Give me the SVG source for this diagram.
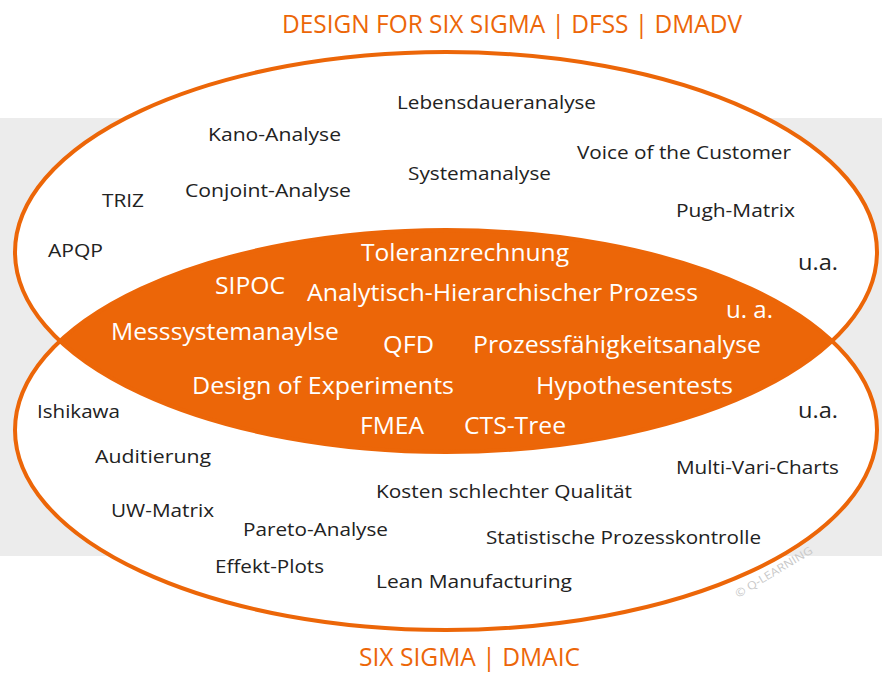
<svg xmlns="http://www.w3.org/2000/svg" width="882" height="673" viewBox="0 0 882 673">
<style>
.t{font-family:"Open Sans","Noto Sans","Liberation Sans",sans-serif;font-size:19px;fill:#222}
.w{font-family:"Open Sans","Noto Sans","Liberation Sans",sans-serif;font-size:23px;fill:#fff}
.h{font-family:"Open Sans","Noto Sans","Liberation Sans",sans-serif;font-size:25px;fill:#EC6608}
.ring{fill:none;stroke:#EC6608;stroke-width:4}
</style>
<defs>
<clipPath id="topClip"><ellipse cx="446" cy="252" rx="431" ry="200"/></clipPath>
</defs>
<rect x="0" y="0" width="882" height="673" fill="#fff"/>
<rect x="0" y="118" width="882" height="438" fill="#ececec"/>
<g id="ellipses">
<ellipse cx="446" cy="252" rx="431" ry="200" fill="#fff"/>
<ellipse cx="446" cy="430" rx="431" ry="200" fill="#fff"/>
<ellipse cx="446" cy="430" rx="431" ry="200" fill="#EC6608" clip-path="url(#topClip)"/>
<ellipse class="ring" cx="446" cy="252" rx="431" ry="200"/>
<ellipse class="ring" cx="446" cy="430" rx="431" ry="200"/>
</g>
<g id="titles">
<text class="h" x="282" y="33" textLength="460" lengthAdjust="spacingAndGlyphs">DESIGN FOR SIX SIGMA | DFSS | DMADV</text>
<text class="h" x="359" y="666" textLength="221" lengthAdjust="spacingAndGlyphs">SIX SIGMA | DMAIC</text>
</g>
<g id="dfss">
<text class="t" x="397" y="109" textLength="199" lengthAdjust="spacingAndGlyphs">Lebensdaueranalyse</text>
<text class="t" x="208" y="141" textLength="133" lengthAdjust="spacingAndGlyphs">Kano-Analyse</text>
<text class="t" x="577" y="159" textLength="214" lengthAdjust="spacingAndGlyphs">Voice of the Customer</text>
<text class="t" x="408" y="180" textLength="143" lengthAdjust="spacingAndGlyphs">Systemanalyse</text>
<text class="t" x="102" y="207" textLength="42" lengthAdjust="spacingAndGlyphs">TRIZ</text>
<text class="t" x="185" y="197" textLength="166" lengthAdjust="spacingAndGlyphs">Conjoint-Analyse</text>
<text class="t" x="676" y="217" textLength="119" lengthAdjust="spacingAndGlyphs">Pugh-Matrix</text>
<text class="t" x="48" y="257" textLength="55" lengthAdjust="spacingAndGlyphs">APQP</text>
<text class="t" x="798" y="270" style="font-size:22px" textLength="40" lengthAdjust="spacingAndGlyphs">u.a.</text>
</g>
<g id="both">
<text class="w" x="361" y="261" textLength="208" lengthAdjust="spacingAndGlyphs">Toleranzrechnung</text>
<text class="w" x="215" y="294" textLength="70" lengthAdjust="spacingAndGlyphs">SIPOC</text>
<text class="w" x="307" y="301" textLength="391" lengthAdjust="spacingAndGlyphs">Analytisch-Hierarchischer Prozess</text>
<text class="w" x="726" y="318" textLength="47" lengthAdjust="spacingAndGlyphs">u. a.</text>
<text class="w" x="111" y="340" textLength="228" lengthAdjust="spacingAndGlyphs">Messsystemanaylse</text>
<text class="w" x="383" y="353" textLength="51" lengthAdjust="spacingAndGlyphs">QFD</text>
<text class="w" x="473" y="353" textLength="288" lengthAdjust="spacingAndGlyphs">Prozessfähigkeitsanalyse</text>
<text class="w" x="192" y="394" textLength="262" lengthAdjust="spacingAndGlyphs">Design of Experiments</text>
<text class="w" x="536" y="394" textLength="197" lengthAdjust="spacingAndGlyphs">Hypothesentests</text>
<text class="w" x="360" y="434" textLength="64" lengthAdjust="spacingAndGlyphs">FMEA</text>
<text class="w" x="464" y="434" textLength="102" lengthAdjust="spacingAndGlyphs">CTS-Tree</text>
</g>
<g id="dmaic">
<text class="t" x="798" y="418" style="font-size:22px" textLength="40" lengthAdjust="spacingAndGlyphs">u.a.</text>
<text class="t" x="37" y="418" textLength="83" lengthAdjust="spacingAndGlyphs">Ishikawa</text>
<text class="t" x="95" y="463" textLength="116" lengthAdjust="spacingAndGlyphs">Auditierung</text>
<text class="t" x="676" y="474" textLength="163" lengthAdjust="spacingAndGlyphs">Multi-Vari-Charts</text>
<text class="t" x="376" y="498" textLength="256" lengthAdjust="spacingAndGlyphs">Kosten schlechter Qualität</text>
<text class="t" x="111" y="517" textLength="103" lengthAdjust="spacingAndGlyphs">UW-Matrix</text>
<text class="t" x="243" y="536" textLength="145" lengthAdjust="spacingAndGlyphs">Pareto-Analyse</text>
<text class="t" x="486" y="544" textLength="275" lengthAdjust="spacingAndGlyphs">Statistische Prozesskontrolle</text>
<text class="t" x="215" y="573" textLength="109" lengthAdjust="spacingAndGlyphs">Effekt-Plots</text>
<text class="t" x="376" y="588" textLength="196" lengthAdjust="spacingAndGlyphs">Lean Manufacturing</text>
</g>
<text x="738" y="598" transform="rotate(-31 738 598)" style="font-family:'Open Sans','Liberation Sans',sans-serif;font-size:11px;fill:#c8c8c8" textLength="88" lengthAdjust="spacingAndGlyphs">© Q-LEARNING</text>
</svg>
